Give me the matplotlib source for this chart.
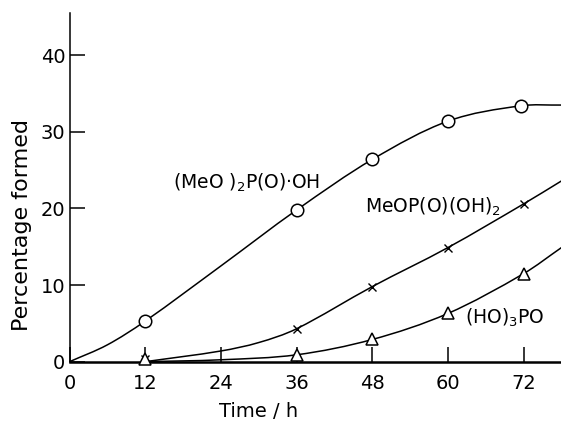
import numpy as np
import matplotlib
matplotlib.use("Agg")
import matplotlib.pyplot as plt
from matplotlib.path import Path
from matplotlib.patches import PathPatch

# ---- data ----
x_ticks = [0, 12, 24, 36, 48, 60, 72]
y_ticks = [0, 10, 20, 30, 40]

# measured points (markers)
dimethyl_t = [12, 36, 48, 60, 71.5]
dimethyl_v = [5.3, 19.8, 26.4, 31.4, 33.4]
monomethyl_t = [12, 36, 48, 60, 72]
monomethyl_v = [0.4, 4.3, 9.8, 14.9, 20.6]
phosphoric_t = [12, 36, 48, 60, 72]
phosphoric_v = [0.3, 0.9, 2.9, 6.3, 11.5]

# smooth hand-drawn curves (knots)
dimethyl_curve_t = [0, 6, 12, 24, 36, 48, 60, 71.5, 78]
dimethyl_curve_v = [0, 2.2, 5.3, 12.5, 19.8, 26.4, 31.4, 33.4, 33.5]
monomethyl_curve_t = [12, 24, 30, 36, 48, 60, 72, 78]
monomethyl_curve_v = [0, 1.4, 2.5, 4.3, 9.8, 14.9, 20.6, 23.6]
phosphoric_curve_t = [12, 24, 36, 48, 60, 72, 78]
phosphoric_curve_v = [0, 0.25, 0.9, 2.9, 6.3, 11.5, 14.9]

labels = ["(MeO )$_2$P(O)\u00b7OH", "MeOP(O)(OH)$_2$", "(HO)$_3$PO"]
label_pos = [(16.4, 23.3), (46.8, 20.2), (62.7, 5.7)]


def smooth_path(xs, ys):
    xs = np.asarray(xs, float)
    ys = np.asarray(ys, float)
    n = len(xs)
    m = np.zeros(n)
    for i in range(n):
        if i == 0:
            m[i] = (ys[1] - ys[0]) / (xs[1] - xs[0])
        elif i == n - 1:
            m[i] = (ys[-1] - ys[-2]) / (xs[-1] - xs[-2])
        else:
            m[i] = (ys[i + 1] - ys[i - 1]) / (xs[i + 1] - xs[i - 1])
    verts = [(xs[0], ys[0])]
    codes = [Path.MOVETO]
    for i in range(n - 1):
        h = xs[i + 1] - xs[i]
        verts += [(xs[i] + h / 3, ys[i] + m[i] * h / 3),
                  (xs[i + 1] - h / 3, ys[i + 1] - m[i + 1] * h / 3),
                  (xs[i + 1], ys[i + 1])]
        codes += [Path.CURVE4] * 3
    return Path(verts, codes)


plt.rcParams['font.family'] = ['DejaVu Sans']
fig = plt.figure(figsize=(5.61, 4.22), dpi=100)
ax = fig.add_axes([0.1239, 0.1429, 0.877, 0.826])

for ct, cv in [(dimethyl_curve_t, dimethyl_curve_v),
               (monomethyl_curve_t, monomethyl_curve_v),
               (phosphoric_curve_t, phosphoric_curve_v)]:
    ax.add_patch(PathPatch(smooth_path(ct, cv), facecolor='none',
                           edgecolor='black', lw=1.1, zorder=2, clip_on=False))

ax.plot(dimethyl_t, dimethyl_v, ls='none', marker='o', ms=9, mfc='white',
        mec='black', mew=1.1, zorder=3, clip_on=False)
ax.plot(monomethyl_t, monomethyl_v, ls='none', marker='x', ms=6,
        mec='black', mew=1.0, zorder=3, clip_on=False)
ax.plot(phosphoric_t, phosphoric_v, ls='none', marker='^', ms=9, mfc='white',
        mec='black', mew=1.1, zorder=3, clip_on=False)

for lab, (lx, ly) in zip(labels, label_pos):
    ax.text(lx, ly, lab, fontsize=13.5, ha='left', va='center')

ax.set_xlim(0, 78)
ax.set_ylim(0, 45.5)
ax.set_xticks(x_ticks)
ax.set_yticks(y_ticks)
ax.tick_params(direction='in', length=11, width=1.1, labelsize=14)
ax.tick_params(axis='x', pad=9)
ax.tick_params(axis='y', pad=3)
for s in ['top', 'right']:
    ax.spines[s].set_visible(False)
ax.spines['left'].set_linewidth(1.1)
ax.spines['bottom'].set_linewidth(1.8)

ax.set_xlabel("Time / h", fontsize=14, va='top')
ax.xaxis.set_label_coords(0.385, -0.115)
ax.set_ylabel("Percentage formed", fontsize=16, va='center')
ax.yaxis.set_label_coords(-0.0965, 0.392)

fig.savefig("out.png", dpi=100)
